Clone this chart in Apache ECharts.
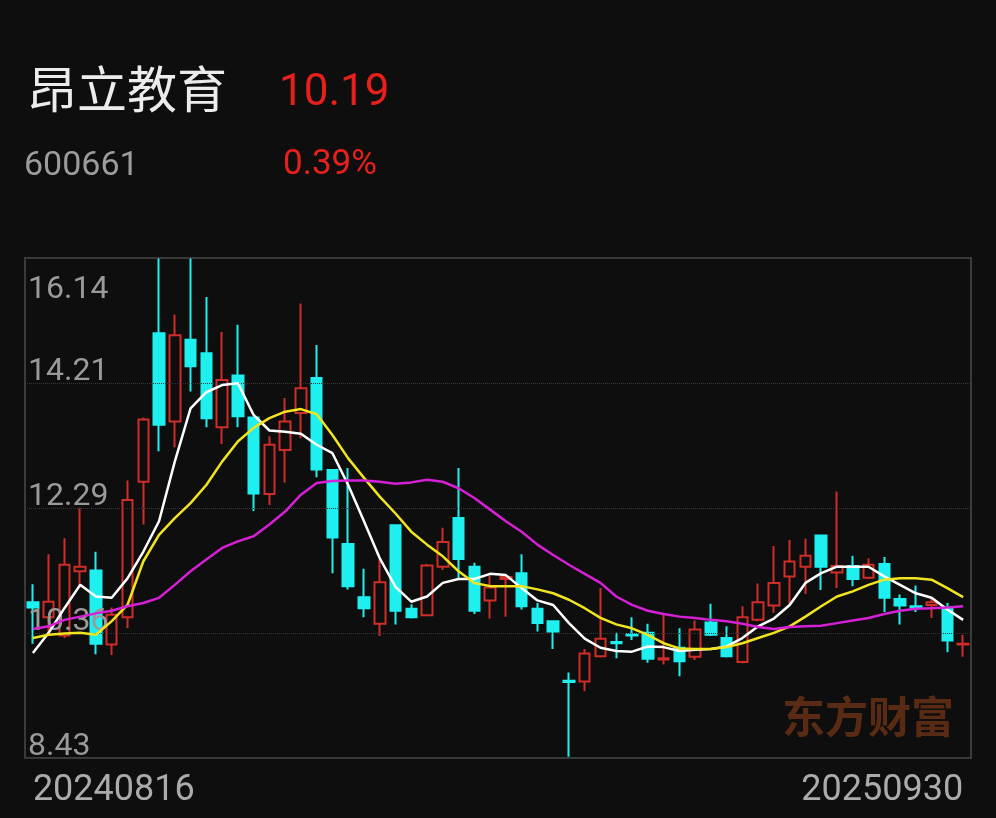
<!DOCTYPE html>
<html>
<head>
<meta charset="utf-8">
<title>昂立教育 600661</title>
<script src="https://cdn.jsdelivr.net/npm/echarts@6/dist/echarts.min.js"></script>
<style>
  html, body { margin: 0; padding: 0; background: #0e0e0e; }
  #kline { width: 996px; height: 818px; }
</style>
</head>
<body>
<div id="kline"></div>
<script>
// 周K数据 [开, 收, 低, 高] 拆成四个数组
const openPrices = [10.83, 10.60, 10.32, 11.31, 11.32, 10.18, 10.60, 12.69, 14.98, 13.62,
  14.88, 14.67, 13.53, 14.33, 13.68, 12.50, 13.18, 13.75, 14.29, 12.87,
  11.73, 10.91, 10.50, 12.02, 10.73, 10.63, 11.38, 12.13, 11.38, 10.86,
  11.19, 11.28, 10.73, 10.54, 9.62, 9.61, 10.00, 10.22, 10.34, 10.36,
  9.95, 10.13, 9.99, 10.52, 10.28, 9.91, 10.56, 10.78, 11.23, 11.38,
  11.86, 11.29, 11.39, 11.21, 11.42, 10.88, 10.77, 10.79, 10.73, 10.18]
const closePrices = [10.75, 10.84, 11.41, 11.38, 10.19, 10.64, 12.41, 13.65, 13.57, 14.95,
  14.47, 13.67, 14.26, 13.70, 12.51, 13.26, 13.62, 14.13, 12.88, 11.83,
  11.08, 10.74, 11.14, 10.70, 10.60, 11.40, 11.76, 11.50, 10.70, 11.06,
  11.22, 10.77, 10.51, 10.38, 9.60, 10.04, 10.27, 10.20, 10.32, 9.96,
  9.97, 9.92, 10.41, 10.33, 10.00, 10.60, 10.83, 11.13, 11.46, 11.55,
  11.38, 11.39, 11.19, 11.41, 10.90, 10.78, 10.75, 10.83, 10.24, 10.19]
const lowPrices = [10.19, 10.35, 10.28, 11.05, 10.03, 10.02, 10.43, 12.03, 13.16, 13.22,
  14.08, 13.53, 13.27, 13.53, 12.24, 12.33, 12.68, 13.36, 12.76, 11.28,
  11.03, 10.60, 10.31, 10.49, 10.58, 10.62, 11.33, 11.18, 10.65, 10.58,
  10.61, 10.72, 10.38, 10.11, 8.45, 9.46, 9.98, 9.97, 10.25, 9.90,
  9.87, 9.69, 9.94, 10.31, 9.98, 9.89, 10.54, 10.67, 10.81, 10.96,
  11.02, 11.05, 11.08, 11.19, 10.68, 10.49, 10.68, 10.59, 10.06, 9.99]
const highPrices = [11.11, 11.57, 11.82, 12.29, 11.61, 10.75, 12.71, 13.68, 16.14, 15.27,
  16.14, 15.54, 15.00, 15.11, 13.68, 13.39, 13.98, 15.44, 14.80, 12.88,
  12.90, 11.35, 11.49, 12.02, 10.80, 11.42, 11.98, 12.90, 11.44, 11.24,
  11.24, 11.57, 10.82, 10.54, 9.75, 10.11, 11.05, 10.36, 10.60, 10.50,
  10.67, 10.43, 10.55, 10.81, 10.46, 10.77, 11.12, 11.70, 11.79, 11.81,
  11.86, 12.54, 11.55, 11.51, 11.53, 10.95, 11.09, 10.88, 10.82, 10.33]

// 均线
const ma5 = [10.05, 10.36, 10.74, 11.10, 10.92, 10.90, 11.20, 11.61, 12.08, 13.00,
  13.82, 14.07, 14.18, 14.21, 13.72, 13.48, 13.46, 13.43, 13.26, 13.13,
  12.64, 12.08, 11.51, 11.07, 10.84, 10.92, 11.13, 11.19, 11.19, 11.27,
  11.25, 11.05, 10.86, 10.79, 10.51, 10.27, 10.13, 10.08, 10.07, 10.15,
  10.14, 10.08, 10.10, 10.11, 10.15, 10.28, 10.46, 10.58, 10.79, 11.13,
  11.28, 11.38, 11.38, 11.38, 11.23, 11.10, 10.97, 10.90, 10.72, 10.56]
const ma10 = [10.28, 10.33, 10.35, 10.36, 10.33, 10.54, 10.79, 11.46, 11.87, 12.13,
  12.36, 12.64, 13.00, 13.31, 13.52, 13.67, 13.77, 13.81, 13.73, 13.41,
  13.05, 12.75, 12.46, 12.20, 11.92, 11.72, 11.54, 11.31, 11.13, 11.08,
  11.08, 11.08, 11.03, 10.97, 10.87, 10.74, 10.59, 10.49, 10.43, 10.33,
  10.20, 10.12, 10.11, 10.11, 10.14, 10.20, 10.28, 10.36, 10.46, 10.61,
  10.77, 10.92, 11.00, 11.10, 11.18, 11.20, 11.20, 11.18, 11.05, 10.91]
const ma20 = [10.42, 10.46, 10.56, 10.61, 10.66, 10.70, 10.77, 10.82, 10.90, 11.10,
  11.31, 11.49, 11.67, 11.77, 11.85, 12.03, 12.23, 12.49, 12.67, 12.70,
  12.71, 12.71, 12.69, 12.66, 12.68, 12.72, 12.69, 12.59, 12.44, 12.26,
  12.08, 11.92, 11.72, 11.56, 11.41, 11.27, 11.13, 10.92, 10.79, 10.70,
  10.65, 10.61, 10.59, 10.56, 10.54, 10.50, 10.45, 10.42, 10.45, 10.46,
  10.47, 10.51, 10.55, 10.59, 10.65, 10.70, 10.73, 10.74, 10.75, 10.77]

// 坐标轴刻度
const yTickLabels = ['8.43', '10.36', '12.29', '14.21', '16.14']
const dateLabels = ['20240816', '20250930']

const chartDom = document.getElementById('kline')
const chartInstance = echarts.init(chartDom, null, { renderer: 'canvas' })

const candleData = openPrices.map((o, i) => [o, closePrices[i], lowPrices[i], highPrices[i]])
const lastIdx = openPrices.length - 1
const categories = openPrices.map((_, i) => {
  if (i === 0) return { value: String(i), textStyle: { align: 'left' } }
  if (i === lastIdx) return { value: String(i), textStyle: { align: 'right' } }
  return String(i)
})
const yMin = parseFloat(yTickLabels[0])
const yMax = parseFloat(yTickLabels[yTickLabels.length - 1])
const labelFont = 'Roboto, "Noto Sans", sans-serif'

const option = {
  backgroundColor: '#0e0e0e',
  animation: false,
  graphic: [
    { type: 'text', left: 27, top: 64, style: { text: '昂立教育', fill: '#ececec', font: '50px "Noto Sans CJK SC"' } },
    { type: 'text', left: 279, top: 72, style: { text: '10.19', fill: '#e8201c', font: '44px ' + labelFont } },
    { type: 'text', left: 24, top: 149, style: { text: '600661', fill: '#9c9c9c', font: '34px ' + labelFont } },
    { type: 'text', left: 283, top: 148, style: { text: '0.39%', fill: '#e8201c', font: '35px ' + labelFont } },
    // 水印
    { type: 'text', left: 782, top: 695, z: 0, style: { text: '东方财富', fill: '#5a2b14', font: 'bold 43px "Noto Sans CJK SC"' } }
  ],
  grid: {
    left: 25,
    right: 25,
    top: 258,
    bottom: 60,
    show: true,
    borderColor: '#3a3a3a',
    borderWidth: 2,
    backgroundColor: 'transparent'
  },
  xAxis: {
    type: 'category',
    data: categories,
    boundaryGap: true,
    axisLine: { show: false },
    axisTick: { show: false },
    splitLine: { show: false },
    axisLabel: {
      interval: 0,
      margin: 15,
      color: '#ababab',
      fontSize: 36,
      fontFamily: labelFont,
      formatter: (v, idx) => idx === 0 ? dateLabels[0] : (idx === lastIdx ? dateLabels[1] : '')
    }
  },
  yAxis: [
    {
      // 价格轴, 只用来定位数据
      type: 'value',
      min: yMin,
      max: yMax,
      show: false,
      splitLine: { show: false }
    },
    {
      // 刻度轴: 0..4 对应 yTickLabels
      type: 'value',
      min: 0,
      max: yTickLabels.length - 1,
      interval: 1,
      position: 'left',
      z: 3,
      axisLine: { show: false },
      axisTick: { show: false },
      splitLine: { show: true, lineStyle: { color: '#363636', type: 'dotted', width: 1 } },
      axisLabel: {
        inside: true,
        margin: 3,
        verticalAlign: 'bottom',
        lineHeight: 23,
        showMaxLabel: false,
        color: '#9a9a9a',
        fontSize: 32,
        fontFamily: labelFont,
        formatter: (v) => yTickLabels[Math.round(v)]
      }
    },
    {
      // 最高价标签单独放在顶部线下面
      type: 'value',
      min: 0,
      max: yTickLabels.length - 1,
      interval: yTickLabels.length - 1,
      position: 'left',
      z: 3,
      axisLine: { show: false },
      axisTick: { show: false },
      splitLine: { show: false },
      axisLabel: {
        inside: true,
        margin: 3,
        verticalAlign: 'top',
        lineHeight: 64,
        showMinLabel: false,
        color: '#9a9a9a',
        fontSize: 32,
        fontFamily: labelFont,
        formatter: (v) => yTickLabels[Math.round(v)]
      }
    }
  ],
  series: [
    {
      type: 'candlestick',
      yAxisIndex: 0,
      data: candleData,
      barWidth: 11,
      clip: true,
      itemStyle: {
        color: '#0e0e0e',
        color0: '#1ef0f0',
        borderColor: '#cf2d28',
        borderColor0: '#1ef0f0',
        borderWidth: 2
      }
    },
    {
      name: 'MA5', type: 'line', yAxisIndex: 0, data: ma5, symbol: 'none', z: 5,
      lineStyle: { color: '#ffffff', width: 2.5 }
    },
    {
      name: 'MA10', type: 'line', yAxisIndex: 0, data: ma10, symbol: 'none', z: 5,
      lineStyle: { color: '#f2e41e', width: 2.5 }
    },
    {
      name: 'MA20', type: 'line', yAxisIndex: 0, data: ma20, symbol: 'none', z: 5,
      lineStyle: { color: '#d620d6', width: 2.5 }
    }
  ]
}
chartInstance.setOption(option)
</script>
</body>
</html>
